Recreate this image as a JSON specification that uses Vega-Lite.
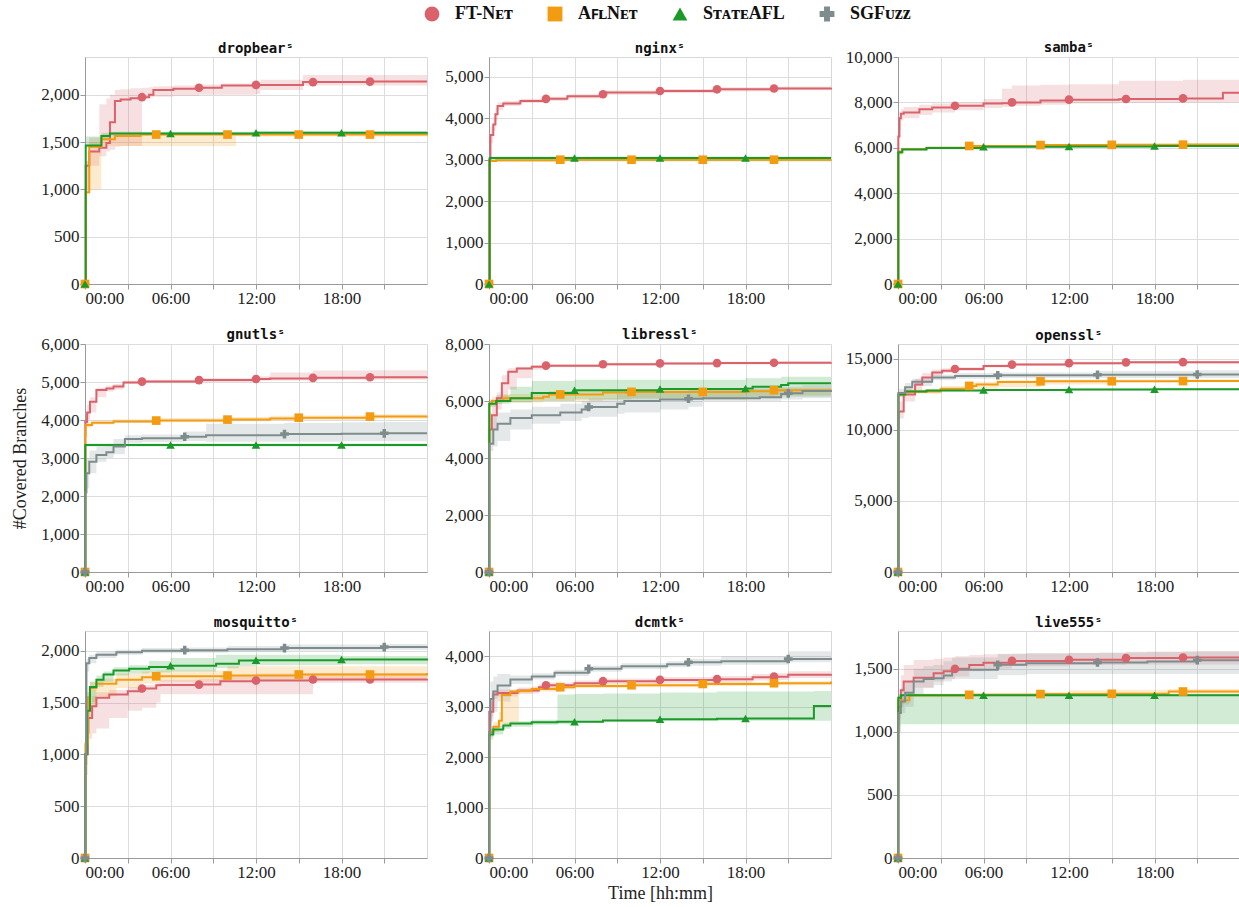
{
"$schema": "https://vega.github.io/schema/vega-lite/v6.json",
"background": "white",
"padding": {"left": 10, "top": 5, "right": 0, "bottom": 0},
"config": {
 "view": {"stroke": "#d8d8d8", "strokeWidth": 1},
 "axis": {"labelFont": "Liberation Serif", "labelFontSize": 17, "labelColor": "#222", "titleFont": "Liberation Serif", "titleFontSize": 18, "titleFontWeight": "normal", "titleColor": "#222", "gridColor": "#dddddd", "domainColor": "#9a9a9a", "tickColor": "#9a9a9a", "tickSize": 5, "labelPadding": 1},
 "title": {"font": "DejaVu Sans Mono", "fontWeight": "bold", "fontSize": 14, "offset": 1, "color": "#111"},
 "legend": {"orient": "none", "legendX": 338, "legendY": -52, "direction": "horizontal", "title": null, "labelFont": "Liberation Serif", "labelFontSize": 18, "labelFontWeight": "bold", "labelColor": "#111", "symbolSize": 220, "symbolOpacity": 1, "symbolStrokeWidth": 0, "columnPadding": 33, "labelOffset": 14}
},
"columns": 3,
"align": "each",
"spacing": {"row": 20, "column": 6},
"resolve": {"scale": {"color": "shared", "shape": "shared"}},
"datasets": {"d": [
{"p":"dropbear","f":"FT-Net","t":0,"y":0,"lo":0,"hi":0,"m":1},
{"p":"dropbear","f":"FT-Net","t":0.05,"y":1250,"lo":1000,"hi":1300},
{"p":"dropbear","f":"FT-Net","t":0.3,"y":1400,"lo":1250,"hi":1550},
{"p":"dropbear","f":"FT-Net","t":1.0,"y":1440,"lo":1350,"hi":1900},
{"p":"dropbear","f":"FT-Net","t":1.5,"y":1490,"lo":1400,"hi":1960},
{"p":"dropbear","f":"FT-Net","t":1.75,"y":1710,"lo":1420,"hi":2000},
{"p":"dropbear","f":"FT-Net","t":2.1,"y":1935,"lo":1450,"hi":2050},
{"p":"dropbear","f":"FT-Net","t":2.5,"y":1950,"lo":1460,"hi":2060},
{"p":"dropbear","f":"FT-Net","t":3.2,"y":1965,"lo":1460,"hi":2070},
{"p":"dropbear","f":"FT-Net","t":4,"y":1975,"lo":1960,"hi":2075,"m":1},
{"p":"dropbear","f":"FT-Net","t":4.5,"y":2000,"lo":1970,"hi":2080},
{"p":"dropbear","f":"FT-Net","t":4.8,"y":2050,"lo":1980,"hi":2090},
{"p":"dropbear","f":"FT-Net","t":6.2,"y":2065,"lo":1990,"hi":2100},
{"p":"dropbear","f":"FT-Net","t":8,"y":2075,"lo":2000,"hi":2110,"m":1},
{"p":"dropbear","f":"FT-Net","t":9.6,"y":2100,"lo":2000,"hi":2120},
{"p":"dropbear","f":"FT-Net","t":12,"y":2105,"lo":2010,"hi":2130,"m":1},
{"p":"dropbear","f":"FT-Net","t":12.3,"y":2105,"lo":2050,"hi":2160},
{"p":"dropbear","f":"FT-Net","t":15.3,"y":2135,"lo":2100,"hi":2210},
{"p":"dropbear","f":"FT-Net","t":16,"y":2135,"lo":2100,"hi":2210,"m":1},
{"p":"dropbear","f":"FT-Net","t":20,"y":2140,"lo":2100,"hi":2210,"m":1},
{"p":"dropbear","f":"FT-Net","t":24,"y":2140,"lo":2100,"hi":2210},
{"p":"dropbear","f":"AflNet","t":0,"y":0,"lo":0,"hi":0,"m":1},
{"p":"dropbear","f":"AflNet","t":0.05,"y":970,"lo":950,"hi":1300},
{"p":"dropbear","f":"AflNet","t":0.3,"y":1450,"lo":1000,"hi":1500},
{"p":"dropbear","f":"AflNet","t":1.15,"y":1530,"lo":1460,"hi":1580},
{"p":"dropbear","f":"AflNet","t":2.1,"y":1565,"lo":1460,"hi":1590},
{"p":"dropbear","f":"AflNet","t":3.9,"y":1580,"lo":1460,"hi":1600},
{"p":"dropbear","f":"AflNet","t":5,"y":1580,"lo":1460,"hi":1600,"m":1},
{"p":"dropbear","f":"AflNet","t":10,"y":1580,"lo":1460,"hi":1600,"m":1},
{"p":"dropbear","f":"AflNet","t":10.6,"y":1580,"lo":1560,"hi":1600},
{"p":"dropbear","f":"AflNet","t":15,"y":1580,"lo":1560,"hi":1600,"m":1},
{"p":"dropbear","f":"AflNet","t":20,"y":1580,"lo":1560,"hi":1600,"m":1},
{"p":"dropbear","f":"AflNet","t":24,"y":1585,"lo":1565,"hi":1600},
{"p":"dropbear","f":"StateAFL","t":0,"y":0,"lo":0,"hi":0,"m":1},
{"p":"dropbear","f":"StateAFL","t":0.05,"y":1465,"lo":1440,"hi":1560},
{"p":"dropbear","f":"StateAFL","t":1.15,"y":1565,"lo":1520,"hi":1600},
{"p":"dropbear","f":"StateAFL","t":1.75,"y":1590,"lo":1570,"hi":1610},
{"p":"dropbear","f":"StateAFL","t":6,"y":1592,"lo":1575,"hi":1610,"m":1},
{"p":"dropbear","f":"StateAFL","t":12,"y":1598,"lo":1580,"hi":1615,"m":1},
{"p":"dropbear","f":"StateAFL","t":18,"y":1600,"lo":1585,"hi":1615,"m":1},
{"p":"dropbear","f":"StateAFL","t":24,"y":1605,"lo":1590,"hi":1620},
{"p":"nginx","f":"FT-Net","t":0,"y":0,"lo":0,"hi":0,"m":1},
{"p":"nginx","f":"FT-Net","t":0.02,"y":3000,"lo":2900,"hi":3100},
{"p":"nginx","f":"FT-Net","t":0.1,"y":3600,"lo":3400,"hi":3800},
{"p":"nginx","f":"FT-Net","t":0.3,"y":3850,"lo":3700,"hi":4000},
{"p":"nginx","f":"FT-Net","t":0.45,"y":4100,"lo":3950,"hi":4250},
{"p":"nginx","f":"FT-Net","t":0.6,"y":4300,"lo":4200,"hi":4380},
{"p":"nginx","f":"FT-Net","t":1.0,"y":4360,"lo":4300,"hi":4420},
{"p":"nginx","f":"FT-Net","t":2.2,"y":4420,"lo":4370,"hi":4470},
{"p":"nginx","f":"FT-Net","t":4,"y":4470,"lo":4420,"hi":4520,"m":1},
{"p":"nginx","f":"FT-Net","t":5.5,"y":4530,"lo":4480,"hi":4580},
{"p":"nginx","f":"FT-Net","t":8,"y":4580,"lo":4530,"hi":4630,"m":1},
{"p":"nginx","f":"FT-Net","t":8.2,"y":4620,"lo":4570,"hi":4670},
{"p":"nginx","f":"FT-Net","t":12,"y":4660,"lo":4610,"hi":4710,"m":1},
{"p":"nginx","f":"FT-Net","t":16,"y":4700,"lo":4650,"hi":4750,"m":1},
{"p":"nginx","f":"FT-Net","t":20,"y":4720,"lo":4680,"hi":4770,"m":1},
{"p":"nginx","f":"FT-Net","t":24,"y":4740,"lo":4700,"hi":4790},
{"p":"nginx","f":"AflNet","t":0,"y":0,"lo":0,"hi":0,"m":1},
{"p":"nginx","f":"AflNet","t":0.05,"y":2970,"lo":2940,"hi":3000},
{"p":"nginx","f":"AflNet","t":0.5,"y":2990,"lo":2960,"hi":3020},
{"p":"nginx","f":"AflNet","t":5,"y":3000,"lo":2970,"hi":3030,"m":1},
{"p":"nginx","f":"AflNet","t":10,"y":3000,"lo":2970,"hi":3030,"m":1},
{"p":"nginx","f":"AflNet","t":15,"y":3000,"lo":2970,"hi":3030,"m":1},
{"p":"nginx","f":"AflNet","t":20,"y":3000,"lo":2970,"hi":3030,"m":1},
{"p":"nginx","f":"AflNet","t":24,"y":3005,"lo":2975,"hi":3035},
{"p":"nginx","f":"StateAFL","t":0,"y":0,"lo":0,"hi":0,"m":1},
{"p":"nginx","f":"StateAFL","t":0.05,"y":3040,"lo":2960,"hi":3080},
{"p":"nginx","f":"StateAFL","t":6,"y":3040,"lo":2960,"hi":3080,"m":1},
{"p":"nginx","f":"StateAFL","t":12,"y":3040,"lo":2960,"hi":3080,"m":1},
{"p":"nginx","f":"StateAFL","t":18,"y":3040,"lo":2960,"hi":3080,"m":1},
{"p":"nginx","f":"StateAFL","t":24,"y":3040,"lo":2960,"hi":3080},
{"p":"samba","f":"FT-Net","t":0,"y":0,"lo":0,"hi":0,"m":1},
{"p":"samba","f":"FT-Net","t":0.02,"y":6500,"lo":5800,"hi":7200},
{"p":"samba","f":"FT-Net","t":0.1,"y":7300,"lo":6800,"hi":7600},
{"p":"samba","f":"FT-Net","t":0.2,"y":7500,"lo":7200,"hi":7700},
{"p":"samba","f":"FT-Net","t":0.4,"y":7560,"lo":7300,"hi":7800},
{"p":"samba","f":"FT-Net","t":1.5,"y":7700,"lo":7450,"hi":7900},
{"p":"samba","f":"FT-Net","t":2.4,"y":7770,"lo":7550,"hi":7950},
{"p":"samba","f":"FT-Net","t":4,"y":7850,"lo":7650,"hi":8000,"m":1},
{"p":"samba","f":"FT-Net","t":6,"y":7950,"lo":7750,"hi":8150},
{"p":"samba","f":"FT-Net","t":7.3,"y":7960,"lo":7800,"hi":8600},
{"p":"samba","f":"FT-Net","t":8,"y":8000,"lo":7850,"hi":8750,"m":1},
{"p":"samba","f":"FT-Net","t":10,"y":8080,"lo":7900,"hi":8780},
{"p":"samba","f":"FT-Net","t":12,"y":8120,"lo":7950,"hi":8800,"m":1},
{"p":"samba","f":"FT-Net","t":15.5,"y":8140,"lo":7980,"hi":8950},
{"p":"samba","f":"FT-Net","t":16,"y":8150,"lo":7980,"hi":8950,"m":1},
{"p":"samba","f":"FT-Net","t":20,"y":8175,"lo":8000,"hi":9000,"m":1},
{"p":"samba","f":"FT-Net","t":22.8,"y":8420,"lo":8000,"hi":9000},
{"p":"samba","f":"FT-Net","t":24,"y":8450,"lo":8000,"hi":9020},
{"p":"samba","f":"AflNet","t":0,"y":0,"lo":0,"hi":0,"m":1},
{"p":"samba","f":"AflNet","t":0.02,"y":5800,"lo":5700,"hi":5900},
{"p":"samba","f":"AflNet","t":0.3,"y":5950,"lo":5900,"hi":6000},
{"p":"samba","f":"AflNet","t":2,"y":6000,"lo":5950,"hi":6050},
{"p":"samba","f":"AflNet","t":5,"y":6080,"lo":6030,"hi":6130,"m":1},
{"p":"samba","f":"AflNet","t":10,"y":6120,"lo":6070,"hi":6170,"m":1},
{"p":"samba","f":"AflNet","t":15,"y":6130,"lo":6080,"hi":6180,"m":1},
{"p":"samba","f":"AflNet","t":20,"y":6140,"lo":6090,"hi":6190,"m":1},
{"p":"samba","f":"AflNet","t":24,"y":6170,"lo":6120,"hi":6220},
{"p":"samba","f":"StateAFL","t":0,"y":0,"lo":0,"hi":0,"m":1},
{"p":"samba","f":"StateAFL","t":0.02,"y":5800,"lo":5700,"hi":5900},
{"p":"samba","f":"StateAFL","t":0.3,"y":5930,"lo":5880,"hi":5980},
{"p":"samba","f":"StateAFL","t":2,"y":5990,"lo":5940,"hi":6040},
{"p":"samba","f":"StateAFL","t":6,"y":6050,"lo":6000,"hi":6100,"m":1},
{"p":"samba","f":"StateAFL","t":12,"y":6060,"lo":6010,"hi":6110,"m":1},
{"p":"samba","f":"StateAFL","t":18,"y":6080,"lo":6030,"hi":6130,"m":1},
{"p":"samba","f":"StateAFL","t":24,"y":6120,"lo":6070,"hi":6170},
{"p":"gnutls","f":"FT-Net","t":0,"y":0,"lo":0,"hi":0,"m":1},
{"p":"gnutls","f":"FT-Net","t":0.02,"y":3950,"lo":3800,"hi":4100},
{"p":"gnutls","f":"FT-Net","t":0.15,"y":4200,"lo":4000,"hi":4400},
{"p":"gnutls","f":"FT-Net","t":0.35,"y":4480,"lo":4200,"hi":4600},
{"p":"gnutls","f":"FT-Net","t":0.8,"y":4790,"lo":4600,"hi":4850},
{"p":"gnutls","f":"FT-Net","t":1.5,"y":4830,"lo":4750,"hi":4900},
{"p":"gnutls","f":"FT-Net","t":2.0,"y":4880,"lo":4800,"hi":4950},
{"p":"gnutls","f":"FT-Net","t":2.7,"y":4990,"lo":4950,"hi":5030},
{"p":"gnutls","f":"FT-Net","t":4,"y":5010,"lo":4970,"hi":5060,"m":1},
{"p":"gnutls","f":"FT-Net","t":8,"y":5050,"lo":5000,"hi":5100,"m":1},
{"p":"gnutls","f":"FT-Net","t":12,"y":5080,"lo":5030,"hi":5150,"m":1},
{"p":"gnutls","f":"FT-Net","t":13,"y":5090,"lo":5040,"hi":5250},
{"p":"gnutls","f":"FT-Net","t":16,"y":5110,"lo":5050,"hi":5300,"m":1},
{"p":"gnutls","f":"FT-Net","t":20,"y":5125,"lo":5060,"hi":5310,"m":1},
{"p":"gnutls","f":"FT-Net","t":24,"y":5130,"lo":5060,"hi":5310},
{"p":"gnutls","f":"AflNet","t":0,"y":0,"lo":0,"hi":0,"m":1},
{"p":"gnutls","f":"AflNet","t":0.02,"y":3600,"lo":3400,"hi":3800},
{"p":"gnutls","f":"AflNet","t":0.05,"y":3870,"lo":3800,"hi":3950},
{"p":"gnutls","f":"AflNet","t":0.5,"y":3930,"lo":3880,"hi":3990},
{"p":"gnutls","f":"AflNet","t":2,"y":3960,"lo":3920,"hi":4020},
{"p":"gnutls","f":"AflNet","t":5,"y":3985,"lo":3940,"hi":4050,"m":1},
{"p":"gnutls","f":"AflNet","t":10,"y":4010,"lo":3960,"hi":4080,"m":1},
{"p":"gnutls","f":"AflNet","t":13,"y":4040,"lo":3990,"hi":4110},
{"p":"gnutls","f":"AflNet","t":15,"y":4060,"lo":4000,"hi":4120,"m":1},
{"p":"gnutls","f":"AflNet","t":20,"y":4090,"lo":4030,"hi":4150,"m":1},
{"p":"gnutls","f":"AflNet","t":24,"y":4095,"lo":4040,"hi":4160},
{"p":"gnutls","f":"StateAFL","t":0,"y":0,"lo":0,"hi":0,"m":1},
{"p":"gnutls","f":"StateAFL","t":0.02,"y":3340,"lo":3300,"hi":3380},
{"p":"gnutls","f":"StateAFL","t":6,"y":3340,"lo":3300,"hi":3380,"m":1},
{"p":"gnutls","f":"StateAFL","t":12,"y":3340,"lo":3300,"hi":3380,"m":1},
{"p":"gnutls","f":"StateAFL","t":18,"y":3340,"lo":3300,"hi":3380,"m":1},
{"p":"gnutls","f":"StateAFL","t":24,"y":3340,"lo":3300,"hi":3380},
{"p":"gnutls","f":"SGFuzz","t":0,"y":0,"lo":0,"hi":0,"m":1},
{"p":"gnutls","f":"SGFuzz","t":0.03,"y":2100,"lo":1900,"hi":2600},
{"p":"gnutls","f":"SGFuzz","t":0.1,"y":2600,"lo":2200,"hi":3000},
{"p":"gnutls","f":"SGFuzz","t":0.3,"y":2900,"lo":2600,"hi":3200},
{"p":"gnutls","f":"SGFuzz","t":0.8,"y":3080,"lo":2900,"hi":3300},
{"p":"gnutls","f":"SGFuzz","t":1.5,"y":3150,"lo":3000,"hi":3350},
{"p":"gnutls","f":"SGFuzz","t":2.0,"y":3300,"lo":3100,"hi":3500},
{"p":"gnutls","f":"SGFuzz","t":2.8,"y":3500,"lo":3400,"hi":3600},
{"p":"gnutls","f":"SGFuzz","t":4,"y":3520,"lo":3420,"hi":3620},
{"p":"gnutls","f":"SGFuzz","t":7,"y":3560,"lo":3450,"hi":3700,"m":1},
{"p":"gnutls","f":"SGFuzz","t":8.5,"y":3600,"lo":3430,"hi":3900},
{"p":"gnutls","f":"SGFuzz","t":14,"y":3630,"lo":3430,"hi":3920,"m":1},
{"p":"gnutls","f":"SGFuzz","t":18,"y":3640,"lo":3440,"hi":3940},
{"p":"gnutls","f":"SGFuzz","t":21,"y":3650,"lo":3440,"hi":3950,"m":1},
{"p":"gnutls","f":"SGFuzz","t":24,"y":3650,"lo":3440,"hi":3950},
{"p":"libressl","f":"FT-Net","t":0,"y":0,"lo":0,"hi":0,"m":1},
{"p":"libressl","f":"FT-Net","t":0.02,"y":5000,"lo":4500,"hi":5600},
{"p":"libressl","f":"FT-Net","t":0.2,"y":5500,"lo":5000,"hi":5900},
{"p":"libressl","f":"FT-Net","t":0.55,"y":6100,"lo":5700,"hi":6300},
{"p":"libressl","f":"FT-Net","t":0.9,"y":6620,"lo":6000,"hi":6900},
{"p":"libressl","f":"FT-Net","t":1.35,"y":7030,"lo":6400,"hi":7150},
{"p":"libressl","f":"FT-Net","t":1.95,"y":7140,"lo":6800,"hi":7200},
{"p":"libressl","f":"FT-Net","t":3,"y":7200,"lo":7100,"hi":7260},
{"p":"libressl","f":"FT-Net","t":4,"y":7240,"lo":7180,"hi":7290,"m":1},
{"p":"libressl","f":"FT-Net","t":8,"y":7290,"lo":7240,"hi":7340,"m":1},
{"p":"libressl","f":"FT-Net","t":12,"y":7320,"lo":7270,"hi":7370,"m":1},
{"p":"libressl","f":"FT-Net","t":16,"y":7330,"lo":7280,"hi":7380,"m":1},
{"p":"libressl","f":"FT-Net","t":20,"y":7340,"lo":7290,"hi":7390,"m":1},
{"p":"libressl","f":"FT-Net","t":24,"y":7350,"lo":7300,"hi":7400},
{"p":"libressl","f":"AflNet","t":0,"y":0,"lo":0,"hi":0,"m":1},
{"p":"libressl","f":"AflNet","t":0.02,"y":5900,"lo":5800,"hi":6000},
{"p":"libressl","f":"AflNet","t":0.2,"y":6000,"lo":5900,"hi":6150},
{"p":"libressl","f":"AflNet","t":1.0,"y":6100,"lo":5950,"hi":6250},
{"p":"libressl","f":"AflNet","t":3.8,"y":6150,"lo":6000,"hi":6300},
{"p":"libressl","f":"AflNet","t":4.2,"y":6230,"lo":6000,"hi":6350},
{"p":"libressl","f":"AflNet","t":5,"y":6230,"lo":6000,"hi":6350,"m":1},
{"p":"libressl","f":"AflNet","t":8,"y":6300,"lo":6050,"hi":6400},
{"p":"libressl","f":"AflNet","t":10,"y":6320,"lo":6100,"hi":6400,"m":1},
{"p":"libressl","f":"AflNet","t":15,"y":6320,"lo":6100,"hi":6400,"m":1},
{"p":"libressl","f":"AflNet","t":18,"y":6340,"lo":6150,"hi":6420},
{"p":"libressl","f":"AflNet","t":20,"y":6380,"lo":6200,"hi":6450,"m":1},
{"p":"libressl","f":"AflNet","t":24,"y":6400,"lo":6200,"hi":6450},
{"p":"libressl","f":"StateAFL","t":0,"y":0,"lo":0,"hi":0,"m":1},
{"p":"libressl","f":"StateAFL","t":0.02,"y":5900,"lo":5800,"hi":6050},
{"p":"libressl","f":"StateAFL","t":0.5,"y":6000,"lo":5900,"hi":6200},
{"p":"libressl","f":"StateAFL","t":1.5,"y":6100,"lo":5950,"hi":6500},
{"p":"libressl","f":"StateAFL","t":3,"y":6280,"lo":6000,"hi":6700},
{"p":"libressl","f":"StateAFL","t":6,"y":6380,"lo":6050,"hi":6750,"m":1},
{"p":"libressl","f":"StateAFL","t":12,"y":6420,"lo":6050,"hi":6750,"m":1},
{"p":"libressl","f":"StateAFL","t":18,"y":6440,"lo":6080,"hi":6800,"m":1},
{"p":"libressl","f":"StateAFL","t":18.5,"y":6500,"lo":6100,"hi":6800},
{"p":"libressl","f":"StateAFL","t":20.5,"y":6560,"lo":6150,"hi":6850},
{"p":"libressl","f":"StateAFL","t":21,"y":6620,"lo":6150,"hi":6850},
{"p":"libressl","f":"StateAFL","t":24,"y":6620,"lo":6150,"hi":6850},
{"p":"libressl","f":"SGFuzz","t":0,"y":0,"lo":0,"hi":0,"m":1},
{"p":"libressl","f":"SGFuzz","t":0.02,"y":4500,"lo":4250,"hi":5000},
{"p":"libressl","f":"SGFuzz","t":0.3,"y":5000,"lo":4400,"hi":5500},
{"p":"libressl","f":"SGFuzz","t":0.6,"y":5200,"lo":4600,"hi":5600},
{"p":"libressl","f":"SGFuzz","t":1.5,"y":5400,"lo":5000,"hi":5700},
{"p":"libressl","f":"SGFuzz","t":3,"y":5500,"lo":5200,"hi":5800},
{"p":"libressl","f":"SGFuzz","t":5,"y":5600,"lo":5300,"hi":5900},
{"p":"libressl","f":"SGFuzz","t":6.5,"y":5700,"lo":5400,"hi":6000},
{"p":"libressl","f":"SGFuzz","t":7,"y":5790,"lo":5450,"hi":6100,"m":1},
{"p":"libressl","f":"SGFuzz","t":9,"y":5900,"lo":5550,"hi":6250},
{"p":"libressl","f":"SGFuzz","t":9.5,"y":6000,"lo":5600,"hi":6300},
{"p":"libressl","f":"SGFuzz","t":12,"y":6050,"lo":5700,"hi":6350},
{"p":"libressl","f":"SGFuzz","t":14,"y":6080,"lo":5800,"hi":6400,"m":1},
{"p":"libressl","f":"SGFuzz","t":15,"y":6100,"lo":6000,"hi":6450},
{"p":"libressl","f":"SGFuzz","t":19,"y":6130,"lo":6000,"hi":6450},
{"p":"libressl","f":"SGFuzz","t":20.5,"y":6250,"lo":6050,"hi":6500},
{"p":"libressl","f":"SGFuzz","t":21,"y":6270,"lo":6050,"hi":6500,"m":1},
{"p":"libressl","f":"SGFuzz","t":22,"y":6350,"lo":6100,"hi":6550},
{"p":"libressl","f":"SGFuzz","t":24,"y":6380,"lo":6100,"hi":6550},
{"p":"openssl","f":"FT-Net","t":0,"y":0,"lo":0,"hi":0,"m":1},
{"p":"openssl","f":"FT-Net","t":0.03,"y":11300,"lo":10800,"hi":12000},
{"p":"openssl","f":"FT-Net","t":0.4,"y":12500,"lo":12000,"hi":12900},
{"p":"openssl","f":"FT-Net","t":1.2,"y":13200,"lo":12800,"hi":13600},
{"p":"openssl","f":"FT-Net","t":1.7,"y":13700,"lo":13300,"hi":14000},
{"p":"openssl","f":"FT-Net","t":2.4,"y":14050,"lo":13800,"hi":14250},
{"p":"openssl","f":"FT-Net","t":3.1,"y":14170,"lo":14000,"hi":14350},
{"p":"openssl","f":"FT-Net","t":4,"y":14290,"lo":14150,"hi":14420,"m":1},
{"p":"openssl","f":"FT-Net","t":6,"y":14500,"lo":14400,"hi":14600},
{"p":"openssl","f":"FT-Net","t":8,"y":14600,"lo":14500,"hi":14700,"m":1},
{"p":"openssl","f":"FT-Net","t":12,"y":14700,"lo":14600,"hi":14800,"m":1},
{"p":"openssl","f":"FT-Net","t":16,"y":14760,"lo":14660,"hi":14850,"m":1},
{"p":"openssl","f":"FT-Net","t":20,"y":14770,"lo":14670,"hi":14860,"m":1},
{"p":"openssl","f":"FT-Net","t":24,"y":14780,"lo":14680,"hi":14870},
{"p":"openssl","f":"AflNet","t":0,"y":0,"lo":0,"hi":0,"m":1},
{"p":"openssl","f":"AflNet","t":0.03,"y":12500,"lo":12300,"hi":12700},
{"p":"openssl","f":"AflNet","t":0.5,"y":12700,"lo":12550,"hi":12850},
{"p":"openssl","f":"AflNet","t":3,"y":12900,"lo":12750,"hi":13100},
{"p":"openssl","f":"AflNet","t":5,"y":13100,"lo":12900,"hi":13300,"m":1},
{"p":"openssl","f":"AflNet","t":5.5,"y":13200,"lo":12900,"hi":13400},
{"p":"openssl","f":"AflNet","t":7,"y":13380,"lo":13000,"hi":13500},
{"p":"openssl","f":"AflNet","t":10,"y":13420,"lo":13200,"hi":13550,"m":1},
{"p":"openssl","f":"AflNet","t":15,"y":13430,"lo":13350,"hi":13550,"m":1},
{"p":"openssl","f":"AflNet","t":20,"y":13440,"lo":13360,"hi":13560,"m":1},
{"p":"openssl","f":"AflNet","t":24,"y":13480,"lo":13400,"hi":13580},
{"p":"openssl","f":"StateAFL","t":0,"y":0,"lo":0,"hi":0,"m":1},
{"p":"openssl","f":"StateAFL","t":0.03,"y":12500,"lo":12400,"hi":12650},
{"p":"openssl","f":"StateAFL","t":0.5,"y":12700,"lo":12600,"hi":12800},
{"p":"openssl","f":"StateAFL","t":2,"y":12780,"lo":12700,"hi":12850},
{"p":"openssl","f":"StateAFL","t":6,"y":12820,"lo":12750,"hi":12880,"m":1},
{"p":"openssl","f":"StateAFL","t":12,"y":12850,"lo":12780,"hi":12910,"m":1},
{"p":"openssl","f":"StateAFL","t":18,"y":12870,"lo":12800,"hi":12930,"m":1},
{"p":"openssl","f":"StateAFL","t":24,"y":12900,"lo":12830,"hi":12960},
{"p":"openssl","f":"SGFuzz","t":0,"y":0,"lo":0,"hi":0,"m":1},
{"p":"openssl","f":"SGFuzz","t":0.03,"y":12600,"lo":12300,"hi":12900},
{"p":"openssl","f":"SGFuzz","t":0.5,"y":13000,"lo":12700,"hi":13300},
{"p":"openssl","f":"SGFuzz","t":1.0,"y":13400,"lo":13100,"hi":13600},
{"p":"openssl","f":"SGFuzz","t":2.4,"y":13700,"lo":13500,"hi":13900},
{"p":"openssl","f":"SGFuzz","t":4,"y":13800,"lo":13600,"hi":14000},
{"p":"openssl","f":"SGFuzz","t":7,"y":13850,"lo":13650,"hi":14050,"m":1},
{"p":"openssl","f":"SGFuzz","t":14,"y":13880,"lo":13650,"hi":14150,"m":1},
{"p":"openssl","f":"SGFuzz","t":21,"y":13900,"lo":13650,"hi":14200,"m":1},
{"p":"openssl","f":"SGFuzz","t":24,"y":13900,"lo":13650,"hi":14200},
{"p":"mosquitto","f":"FT-Net","t":0,"y":0,"lo":0,"hi":0,"m":1},
{"p":"mosquitto","f":"FT-Net","t":0.03,"y":1000,"lo":800,"hi":1200},
{"p":"mosquitto","f":"FT-Net","t":0.2,"y":1350,"lo":1150,"hi":1500},
{"p":"mosquitto","f":"FT-Net","t":0.5,"y":1465,"lo":1200,"hi":1560},
{"p":"mosquitto","f":"FT-Net","t":0.8,"y":1545,"lo":1250,"hi":1600},
{"p":"mosquitto","f":"FT-Net","t":1.7,"y":1577,"lo":1350,"hi":1620},
{"p":"mosquitto","f":"FT-Net","t":3,"y":1609,"lo":1420,"hi":1650},
{"p":"mosquitto","f":"FT-Net","t":4,"y":1635,"lo":1450,"hi":1670,"m":1},
{"p":"mosquitto","f":"FT-Net","t":5,"y":1667,"lo":1500,"hi":1700},
{"p":"mosquitto","f":"FT-Net","t":5.3,"y":1670,"lo":1580,"hi":1720},
{"p":"mosquitto","f":"FT-Net","t":8,"y":1673,"lo":1580,"hi":1730,"m":1},
{"p":"mosquitto","f":"FT-Net","t":9.5,"y":1705,"lo":1580,"hi":1760},
{"p":"mosquitto","f":"FT-Net","t":12,"y":1712,"lo":1580,"hi":1780,"m":1},
{"p":"mosquitto","f":"FT-Net","t":16,"y":1722,"lo":1690,"hi":1785,"m":1},
{"p":"mosquitto","f":"FT-Net","t":20,"y":1722,"lo":1690,"hi":1785,"m":1},
{"p":"mosquitto","f":"FT-Net","t":24,"y":1728,"lo":1690,"hi":1785},
{"p":"mosquitto","f":"AflNet","t":0,"y":0,"lo":0,"hi":0,"m":1},
{"p":"mosquitto","f":"AflNet","t":0.03,"y":1100,"lo":900,"hi":1300},
{"p":"mosquitto","f":"AflNet","t":0.2,"y":1550,"lo":1200,"hi":1650},
{"p":"mosquitto","f":"AflNet","t":0.35,"y":1640,"lo":1450,"hi":1700},
{"p":"mosquitto","f":"AflNet","t":0.8,"y":1680,"lo":1560,"hi":1730},
{"p":"mosquitto","f":"AflNet","t":2.2,"y":1720,"lo":1640,"hi":1780},
{"p":"mosquitto","f":"AflNet","t":4,"y":1744,"lo":1680,"hi":1800},
{"p":"mosquitto","f":"AflNet","t":5,"y":1753,"lo":1700,"hi":1810,"m":1},
{"p":"mosquitto","f":"AflNet","t":10,"y":1760,"lo":1720,"hi":1850,"m":1},
{"p":"mosquitto","f":"AflNet","t":15,"y":1770,"lo":1720,"hi":1850,"m":1},
{"p":"mosquitto","f":"AflNet","t":20,"y":1770,"lo":1720,"hi":1850,"m":1},
{"p":"mosquitto","f":"AflNet","t":24,"y":1785,"lo":1730,"hi":1860},
{"p":"mosquitto","f":"StateAFL","t":0,"y":0,"lo":0,"hi":0,"m":1},
{"p":"mosquitto","f":"StateAFL","t":0.03,"y":1000,"lo":900,"hi":1200},
{"p":"mosquitto","f":"StateAFL","t":0.15,"y":1420,"lo":1200,"hi":1600},
{"p":"mosquitto","f":"StateAFL","t":0.35,"y":1650,"lo":1500,"hi":1700},
{"p":"mosquitto","f":"StateAFL","t":0.8,"y":1720,"lo":1650,"hi":1760},
{"p":"mosquitto","f":"StateAFL","t":1.3,"y":1770,"lo":1700,"hi":1800},
{"p":"mosquitto","f":"StateAFL","t":2.0,"y":1810,"lo":1760,"hi":1840},
{"p":"mosquitto","f":"StateAFL","t":3.1,"y":1825,"lo":1780,"hi":1860},
{"p":"mosquitto","f":"StateAFL","t":4.5,"y":1842,"lo":1790,"hi":1900},
{"p":"mosquitto","f":"StateAFL","t":6,"y":1855,"lo":1800,"hi":1930,"m":1},
{"p":"mosquitto","f":"StateAFL","t":9.2,"y":1875,"lo":1830,"hi":1960},
{"p":"mosquitto","f":"StateAFL","t":10.8,"y":1905,"lo":1850,"hi":1960},
{"p":"mosquitto","f":"StateAFL","t":12,"y":1908,"lo":1860,"hi":1960,"m":1},
{"p":"mosquitto","f":"StateAFL","t":18,"y":1914,"lo":1870,"hi":1950,"m":1},
{"p":"mosquitto","f":"StateAFL","t":24,"y":1925,"lo":1870,"hi":1950},
{"p":"mosquitto","f":"SGFuzz","t":0,"y":0,"lo":0,"hi":0,"m":1},
{"p":"mosquitto","f":"SGFuzz","t":0.03,"y":1000,"lo":900,"hi":1200},
{"p":"mosquitto","f":"SGFuzz","t":0.1,"y":1880,"lo":1800,"hi":1920},
{"p":"mosquitto","f":"SGFuzz","t":0.3,"y":1930,"lo":1880,"hi":1960},
{"p":"mosquitto","f":"SGFuzz","t":0.8,"y":1960,"lo":1930,"hi":1990},
{"p":"mosquitto","f":"SGFuzz","t":2.2,"y":1985,"lo":1960,"hi":2010},
{"p":"mosquitto","f":"SGFuzz","t":4,"y":2000,"lo":1975,"hi":2025},
{"p":"mosquitto","f":"SGFuzz","t":7,"y":2005,"lo":1980,"hi":2030,"m":1},
{"p":"mosquitto","f":"SGFuzz","t":10,"y":2015,"lo":1990,"hi":2045},
{"p":"mosquitto","f":"SGFuzz","t":14,"y":2025,"lo":2000,"hi":2060,"m":1},
{"p":"mosquitto","f":"SGFuzz","t":21,"y":2035,"lo":2010,"hi":2065,"m":1},
{"p":"mosquitto","f":"SGFuzz","t":24,"y":2040,"lo":2010,"hi":2065},
{"p":"dcmtk","f":"FT-Net","t":0,"y":0,"lo":0,"hi":0,"m":1},
{"p":"dcmtk","f":"FT-Net","t":0.02,"y":2900,"lo":2700,"hi":3100},
{"p":"dcmtk","f":"FT-Net","t":0.3,"y":3240,"lo":3150,"hi":3320},
{"p":"dcmtk","f":"FT-Net","t":0.6,"y":3270,"lo":3200,"hi":3340},
{"p":"dcmtk","f":"FT-Net","t":2.0,"y":3320,"lo":3260,"hi":3380},
{"p":"dcmtk","f":"FT-Net","t":3.5,"y":3385,"lo":3330,"hi":3440},
{"p":"dcmtk","f":"FT-Net","t":4,"y":3425,"lo":3370,"hi":3480,"m":1},
{"p":"dcmtk","f":"FT-Net","t":6,"y":3465,"lo":3410,"hi":3520},
{"p":"dcmtk","f":"FT-Net","t":8,"y":3505,"lo":3450,"hi":3560,"m":1},
{"p":"dcmtk","f":"FT-Net","t":12,"y":3530,"lo":3470,"hi":3590,"m":1},
{"p":"dcmtk","f":"FT-Net","t":16,"y":3545,"lo":3480,"hi":3610,"m":1},
{"p":"dcmtk","f":"FT-Net","t":18.5,"y":3585,"lo":3520,"hi":3650},
{"p":"dcmtk","f":"FT-Net","t":20,"y":3595,"lo":3530,"hi":3660,"m":1},
{"p":"dcmtk","f":"FT-Net","t":21,"y":3635,"lo":3570,"hi":3700},
{"p":"dcmtk","f":"FT-Net","t":24,"y":3650,"lo":3580,"hi":3720},
{"p":"dcmtk","f":"AflNet","t":0,"y":0,"lo":0,"hi":0,"m":1},
{"p":"dcmtk","f":"AflNet","t":0.02,"y":2500,"lo":2400,"hi":2600},
{"p":"dcmtk","f":"AflNet","t":0.3,"y":2600,"lo":2500,"hi":2700},
{"p":"dcmtk","f":"AflNet","t":0.7,"y":2720,"lo":2600,"hi":2900},
{"p":"dcmtk","f":"AflNet","t":0.9,"y":3230,"lo":2650,"hi":3280},
{"p":"dcmtk","f":"AflNet","t":1.5,"y":3300,"lo":2700,"hi":3330},
{"p":"dcmtk","f":"AflNet","t":2.1,"y":3310,"lo":3250,"hi":3360},
{"p":"dcmtk","f":"AflNet","t":3,"y":3350,"lo":3300,"hi":3400},
{"p":"dcmtk","f":"AflNet","t":5,"y":3385,"lo":3340,"hi":3430,"m":1},
{"p":"dcmtk","f":"AflNet","t":6,"y":3410,"lo":3370,"hi":3450},
{"p":"dcmtk","f":"AflNet","t":10,"y":3425,"lo":3385,"hi":3465,"m":1},
{"p":"dcmtk","f":"AflNet","t":15,"y":3450,"lo":3410,"hi":3490,"m":1},
{"p":"dcmtk","f":"AflNet","t":20,"y":3465,"lo":3425,"hi":3505,"m":1},
{"p":"dcmtk","f":"AflNet","t":24,"y":3500,"lo":3460,"hi":3540},
{"p":"dcmtk","f":"StateAFL","t":0,"y":0,"lo":0,"hi":0,"m":1},
{"p":"dcmtk","f":"StateAFL","t":0.02,"y":2450,"lo":2350,"hi":2550},
{"p":"dcmtk","f":"StateAFL","t":0.3,"y":2545,"lo":2450,"hi":2620},
{"p":"dcmtk","f":"StateAFL","t":1.0,"y":2625,"lo":2560,"hi":2680},
{"p":"dcmtk","f":"StateAFL","t":1.5,"y":2665,"lo":2600,"hi":2710},
{"p":"dcmtk","f":"StateAFL","t":3,"y":2690,"lo":2640,"hi":2740},
{"p":"dcmtk","f":"StateAFL","t":4.8,"y":2700,"lo":2650,"hi":3240},
{"p":"dcmtk","f":"StateAFL","t":6,"y":2700,"lo":2680,"hi":3250,"m":1},
{"p":"dcmtk","f":"StateAFL","t":8,"y":2727,"lo":2700,"hi":3260},
{"p":"dcmtk","f":"StateAFL","t":12,"y":2750,"lo":2710,"hi":3280,"m":1},
{"p":"dcmtk","f":"StateAFL","t":16,"y":2760,"lo":2720,"hi":3300},
{"p":"dcmtk","f":"StateAFL","t":18,"y":2763,"lo":2720,"hi":3300,"m":1},
{"p":"dcmtk","f":"StateAFL","t":22.8,"y":3014,"lo":2720,"hi":3310},
{"p":"dcmtk","f":"StateAFL","t":24,"y":3014,"lo":2720,"hi":3310},
{"p":"dcmtk","f":"SGFuzz","t":0,"y":0,"lo":0,"hi":0,"m":1},
{"p":"dcmtk","f":"SGFuzz","t":0.02,"y":2500,"lo":2300,"hi":2900},
{"p":"dcmtk","f":"SGFuzz","t":0.1,"y":3150,"lo":2800,"hi":3500},
{"p":"dcmtk","f":"SGFuzz","t":0.3,"y":3300,"lo":2900,"hi":3600},
{"p":"dcmtk","f":"SGFuzz","t":0.6,"y":3420,"lo":3100,"hi":3650},
{"p":"dcmtk","f":"SGFuzz","t":1.5,"y":3540,"lo":3450,"hi":3620},
{"p":"dcmtk","f":"SGFuzz","t":3,"y":3600,"lo":3540,"hi":3660},
{"p":"dcmtk","f":"SGFuzz","t":4.6,"y":3670,"lo":3610,"hi":3730},
{"p":"dcmtk","f":"SGFuzz","t":7,"y":3750,"lo":3690,"hi":3810,"m":1},
{"p":"dcmtk","f":"SGFuzz","t":9.3,"y":3800,"lo":3740,"hi":3860},
{"p":"dcmtk","f":"SGFuzz","t":12.5,"y":3840,"lo":3780,"hi":3900},
{"p":"dcmtk","f":"SGFuzz","t":14,"y":3880,"lo":3810,"hi":3950,"m":1},
{"p":"dcmtk","f":"SGFuzz","t":16.3,"y":3900,"lo":3830,"hi":4000},
{"p":"dcmtk","f":"SGFuzz","t":21,"y":3945,"lo":3880,"hi":4100,"m":1},
{"p":"dcmtk","f":"SGFuzz","t":24,"y":3965,"lo":3900,"hi":4120},
{"p":"live555","f":"FT-Net","t":0,"y":0,"lo":0,"hi":0,"m":1},
{"p":"live555","f":"FT-Net","t":0.02,"y":1200,"lo":1100,"hi":1300},
{"p":"live555","f":"FT-Net","t":0.2,"y":1330,"lo":1200,"hi":1450},
{"p":"live555","f":"FT-Net","t":0.4,"y":1400,"lo":1300,"hi":1530},
{"p":"live555","f":"FT-Net","t":1.1,"y":1430,"lo":1350,"hi":1570},
{"p":"live555","f":"FT-Net","t":2.5,"y":1465,"lo":1400,"hi":1580},
{"p":"live555","f":"FT-Net","t":3.2,"y":1480,"lo":1420,"hi":1590},
{"p":"live555","f":"FT-Net","t":4,"y":1500,"lo":1440,"hi":1600,"m":1},
{"p":"live555","f":"FT-Net","t":5,"y":1530,"lo":1480,"hi":1610},
{"p":"live555","f":"FT-Net","t":6,"y":1548,"lo":1500,"hi":1615},
{"p":"live555","f":"FT-Net","t":8,"y":1563,"lo":1520,"hi":1620,"m":1},
{"p":"live555","f":"FT-Net","t":12,"y":1572,"lo":1530,"hi":1625,"m":1},
{"p":"live555","f":"FT-Net","t":16,"y":1585,"lo":1535,"hi":1635,"m":1},
{"p":"live555","f":"FT-Net","t":20,"y":1590,"lo":1535,"hi":1640,"m":1},
{"p":"live555","f":"FT-Net","t":24,"y":1595,"lo":1535,"hi":1640},
{"p":"live555","f":"AflNet","t":0,"y":0,"lo":0,"hi":0,"m":1},
{"p":"live555","f":"AflNet","t":0.02,"y":1250,"lo":1220,"hi":1280},
{"p":"live555","f":"AflNet","t":0.8,"y":1290,"lo":1275,"hi":1305},
{"p":"live555","f":"AflNet","t":5,"y":1294,"lo":1280,"hi":1310,"m":1},
{"p":"live555","f":"AflNet","t":10,"y":1300,"lo":1285,"hi":1315,"m":1},
{"p":"live555","f":"AflNet","t":12,"y":1300,"lo":1285,"hi":1330},
{"p":"live555","f":"AflNet","t":15,"y":1302,"lo":1285,"hi":1335,"m":1},
{"p":"live555","f":"AflNet","t":19,"y":1320,"lo":1300,"hi":1340},
{"p":"live555","f":"AflNet","t":20,"y":1320,"lo":1300,"hi":1340,"m":1},
{"p":"live555","f":"AflNet","t":24,"y":1325,"lo":1305,"hi":1345},
{"p":"live555","f":"StateAFL","t":0,"y":0,"lo":0,"hi":0,"m":1},
{"p":"live555","f":"StateAFL","t":0.02,"y":1270,"lo":1000,"hi":1290},
{"p":"live555","f":"StateAFL","t":0.2,"y":1291,"lo":1060,"hi":1300},
{"p":"live555","f":"StateAFL","t":6,"y":1291,"lo":1060,"hi":1300,"m":1},
{"p":"live555","f":"StateAFL","t":12,"y":1291,"lo":1060,"hi":1300,"m":1},
{"p":"live555","f":"StateAFL","t":18,"y":1291,"lo":1060,"hi":1300,"m":1},
{"p":"live555","f":"StateAFL","t":24,"y":1291,"lo":1060,"hi":1300},
{"p":"live555","f":"SGFuzz","t":0,"y":0,"lo":0,"hi":0,"m":1},
{"p":"live555","f":"SGFuzz","t":0.02,"y":1150,"lo":1050,"hi":1250},
{"p":"live555","f":"SGFuzz","t":0.2,"y":1240,"lo":1150,"hi":1350},
{"p":"live555","f":"SGFuzz","t":0.5,"y":1310,"lo":1200,"hi":1400},
{"p":"live555","f":"SGFuzz","t":1.1,"y":1400,"lo":1300,"hi":1500},
{"p":"live555","f":"SGFuzz","t":1.8,"y":1420,"lo":1350,"hi":1520},
{"p":"live555","f":"SGFuzz","t":2.5,"y":1426,"lo":1370,"hi":1530},
{"p":"live555","f":"SGFuzz","t":3.2,"y":1447,"lo":1400,"hi":1560},
{"p":"live555","f":"SGFuzz","t":3.8,"y":1492,"lo":1420,"hi":1590},
{"p":"live555","f":"SGFuzz","t":7,"y":1532,"lo":1450,"hi":1620,"m":1},
{"p":"live555","f":"SGFuzz","t":9,"y":1545,"lo":1460,"hi":1625},
{"p":"live555","f":"SGFuzz","t":14,"y":1550,"lo":1460,"hi":1630,"m":1},
{"p":"live555","f":"SGFuzz","t":17.5,"y":1558,"lo":1460,"hi":1635},
{"p":"live555","f":"SGFuzz","t":21,"y":1569,"lo":1460,"hi":1640,"m":1},
{"p":"live555","f":"SGFuzz","t":24,"y":1569,"lo":1460,"hi":1640}
]},
"concat": [
{"title": "dropbearˢ", "width": 342, "height": 227, "data": {"name": "d"}, "transform": [{"filter": "datum.p == 'dropbear'"}],
 "encoding": {
  "x": {"field": "t", "type": "quantitative", "scale": {"domain": [0, 24], "nice": false, "zero": false}, "axis": {"title": null, "values": [0,3,6,9,12,15,18,21], "labelExpr": "datum.value % 6 == 0 ? (datum.value < 10 ? '0' : '') + datum.value + ':00' : ''", "labelFlush": true, "labelOverlap": false}},
  "color": {"field": "f", "type": "nominal", "scale": {"domain": ["FT-Net","AflNet","StateAFL","SGFuzz"], "range": ["#d9626b","#f39c12","#1b9a2a","#7f8c8d"]}, "legend": {"labelExpr": "datum.label == 'FT-Net' ? 'FT-Nᴇᴛ' : datum.label == 'AflNet' ? 'AꜰʟNᴇᴛ' : datum.label == 'StateAFL' ? 'SᴛᴀᴛᴇAFL' : 'SGFᴜᴢᴢ'"}}
 },
 "layer": [
  {"mark": {"type": "area", "interpolate": "step-after", "opacity": 0.2}, "encoding": {"y": {"field": "lo", "type": "quantitative", "scale": {"domain": [0, 2400], "nice": false}, "axis": {"title": null, "values": [0,500,1000,1500,2000], "format": ",d", "minExtent": 50, "maxExtent": 50}}, "y2": {"field": "hi"}}},
  {"mark": {"type": "line", "interpolate": "step-after", "strokeWidth": 2}, "encoding": {"y": {"field": "y", "type": "quantitative", "scale": {"domain": [0, 2400], "nice": false}, "axis": {"title": null, "values": [0,500,1000,1500,2000], "format": ",d", "minExtent": 50, "maxExtent": 50}}}},
  {"transform": [{"filter": "datum.m == 1"}], "mark": {"type": "point", "filled": true, "opacity": 1, "size": 75}, "encoding": {"y": {"field": "y", "type": "quantitative", "scale": {"domain": [0, 2400], "nice": false}, "axis": {"title": null, "values": [0,500,1000,1500,2000], "format": ",d", "minExtent": 50, "maxExtent": 50}}, "shape": {"field": "f", "type": "nominal", "scale": {"domain": ["FT-Net","AflNet","StateAFL","SGFuzz"], "range": ["circle","square","triangle-up","cross"]}}}}
 ]},
{"title": "nginxˢ", "width": 342, "height": 227, "data": {"name": "d"}, "transform": [{"filter": "datum.p == 'nginx'"}],
 "encoding": {
  "x": {"field": "t", "type": "quantitative", "scale": {"domain": [0, 24], "nice": false, "zero": false}, "axis": {"title": null, "values": [0,3,6,9,12,15,18,21], "labelExpr": "datum.value % 6 == 0 ? (datum.value < 10 ? '0' : '') + datum.value + ':00' : ''", "labelFlush": true, "labelOverlap": false}},
  "color": {"field": "f", "type": "nominal", "scale": {"domain": ["FT-Net","AflNet","StateAFL","SGFuzz"], "range": ["#d9626b","#f39c12","#1b9a2a","#7f8c8d"]}}
 },
 "layer": [
  {"mark": {"type": "area", "interpolate": "step-after", "opacity": 0.2}, "encoding": {"y": {"field": "lo", "type": "quantitative", "scale": {"domain": [0, 5480], "nice": false}, "axis": {"title": null, "values": [0,1000,2000,3000,4000,5000], "format": ",d", "minExtent": 50, "maxExtent": 50}}, "y2": {"field": "hi"}}},
  {"mark": {"type": "line", "interpolate": "step-after", "strokeWidth": 2}, "encoding": {"y": {"field": "y", "type": "quantitative", "scale": {"domain": [0, 5480], "nice": false}, "axis": {"title": null, "values": [0,1000,2000,3000,4000,5000], "format": ",d", "minExtent": 50, "maxExtent": 50}}}},
  {"transform": [{"filter": "datum.m == 1"}], "mark": {"type": "point", "filled": true, "opacity": 1, "size": 75}, "encoding": {"y": {"field": "y", "type": "quantitative", "scale": {"domain": [0, 5480], "nice": false}, "axis": {"title": null, "values": [0,1000,2000,3000,4000,5000], "format": ",d", "minExtent": 50, "maxExtent": 50}}, "shape": {"field": "f", "type": "nominal", "scale": {"domain": ["FT-Net","AflNet","StateAFL","SGFuzz"], "range": ["circle","square","triangle-up","cross"]}}}}
 ]},
{"title": {"text": "sambaˢ", "offset": -7}, "width": 342, "height": 227, "data": {"name": "d"}, "transform": [{"filter": "datum.p == 'samba'"}],
 "encoding": {
  "x": {"field": "t", "type": "quantitative", "scale": {"domain": [0, 24], "nice": false, "zero": false}, "axis": {"title": null, "values": [0,3,6,9,12,15,18,21], "labelExpr": "datum.value % 6 == 0 ? (datum.value < 10 ? '0' : '') + datum.value + ':00' : ''", "labelFlush": true, "labelOverlap": false}},
  "color": {"field": "f", "type": "nominal", "scale": {"domain": ["FT-Net","AflNet","StateAFL","SGFuzz"], "range": ["#d9626b","#f39c12","#1b9a2a","#7f8c8d"]}}
 },
 "layer": [
  {"mark": {"type": "area", "interpolate": "step-after", "opacity": 0.2}, "encoding": {"y": {"field": "lo", "type": "quantitative", "scale": {"domain": [0, 10000], "nice": false}, "axis": {"title": null, "values": [0,2000,4000,6000,8000,10000], "format": ",d", "minExtent": 55, "maxExtent": 55}}, "y2": {"field": "hi"}}},
  {"mark": {"type": "line", "interpolate": "step-after", "strokeWidth": 2}, "encoding": {"y": {"field": "y", "type": "quantitative", "scale": {"domain": [0, 10000], "nice": false}, "axis": {"title": null, "values": [0,2000,4000,6000,8000,10000], "format": ",d", "minExtent": 55, "maxExtent": 55}}}},
  {"transform": [{"filter": "datum.m == 1"}], "mark": {"type": "point", "filled": true, "opacity": 1, "size": 75}, "encoding": {"y": {"field": "y", "type": "quantitative", "scale": {"domain": [0, 10000], "nice": false}, "axis": {"title": null, "values": [0,2000,4000,6000,8000,10000], "format": ",d", "minExtent": 55, "maxExtent": 55}}, "shape": {"field": "f", "type": "nominal", "scale": {"domain": ["FT-Net","AflNet","StateAFL","SGFuzz"], "range": ["circle","square","triangle-up","cross"]}}}}
 ]},
{"title": {"text": "gnutlsˢ", "offset": -7}, "width": 342, "height": 228, "data": {"name": "d"}, "transform": [{"filter": "datum.p == 'gnutls'"}],
 "encoding": {
  "x": {"field": "t", "type": "quantitative", "scale": {"domain": [0, 24], "nice": false, "zero": false}, "axis": {"title": null, "values": [0,3,6,9,12,15,18,21], "labelExpr": "datum.value % 6 == 0 ? (datum.value < 10 ? '0' : '') + datum.value + ':00' : ''", "labelFlush": true, "labelOverlap": false}},
  "color": {"field": "f", "type": "nominal", "scale": {"domain": ["FT-Net","AflNet","StateAFL","SGFuzz"], "range": ["#d9626b","#f39c12","#1b9a2a","#7f8c8d"]}}
 },
 "layer": [
  {"mark": {"type": "area", "interpolate": "step-after", "opacity": 0.2}, "encoding": {"y": {"field": "lo", "type": "quantitative", "scale": {"domain": [0, 6000], "nice": false}, "axis": {"title": "#Covered Branches", "titlePadding": 6, "values": [0,1000,2000,3000,4000,5000,6000], "format": ",d", "minExtent": 50, "maxExtent": 50}}, "y2": {"field": "hi"}}},
  {"mark": {"type": "line", "interpolate": "step-after", "strokeWidth": 2}, "encoding": {"y": {"field": "y", "type": "quantitative", "scale": {"domain": [0, 6000], "nice": false}, "axis": {"title": "#Covered Branches", "titlePadding": 6, "values": [0,1000,2000,3000,4000,5000,6000], "format": ",d", "minExtent": 50, "maxExtent": 50}}}},
  {"transform": [{"filter": "datum.m == 1"}], "mark": {"type": "point", "filled": true, "opacity": 1, "size": 75}, "encoding": {"y": {"field": "y", "type": "quantitative", "scale": {"domain": [0, 6000], "nice": false}, "axis": {"title": "#Covered Branches", "titlePadding": 6, "values": [0,1000,2000,3000,4000,5000,6000], "format": ",d", "minExtent": 50, "maxExtent": 50}}, "shape": {"field": "f", "type": "nominal", "scale": {"domain": ["FT-Net","AflNet","StateAFL","SGFuzz"], "range": ["circle","square","triangle-up","cross"]}}}}
 ]},
{"title": {"text": "libresslˢ", "offset": -7}, "width": 342, "height": 228, "data": {"name": "d"}, "transform": [{"filter": "datum.p == 'libressl'"}],
 "encoding": {
  "x": {"field": "t", "type": "quantitative", "scale": {"domain": [0, 24], "nice": false, "zero": false}, "axis": {"title": null, "values": [0,3,6,9,12,15,18,21], "labelExpr": "datum.value % 6 == 0 ? (datum.value < 10 ? '0' : '') + datum.value + ':00' : ''", "labelFlush": true, "labelOverlap": false}},
  "color": {"field": "f", "type": "nominal", "scale": {"domain": ["FT-Net","AflNet","StateAFL","SGFuzz"], "range": ["#d9626b","#f39c12","#1b9a2a","#7f8c8d"]}}
 },
 "layer": [
  {"mark": {"type": "area", "interpolate": "step-after", "opacity": 0.2}, "encoding": {"y": {"field": "lo", "type": "quantitative", "scale": {"domain": [0, 8000], "nice": false}, "axis": {"title": null, "values": [0,2000,4000,6000,8000], "format": ",d", "minExtent": 50, "maxExtent": 50}}, "y2": {"field": "hi"}}},
  {"mark": {"type": "line", "interpolate": "step-after", "strokeWidth": 2}, "encoding": {"y": {"field": "y", "type": "quantitative", "scale": {"domain": [0, 8000], "nice": false}, "axis": {"title": null, "values": [0,2000,4000,6000,8000], "format": ",d", "minExtent": 50, "maxExtent": 50}}}},
  {"transform": [{"filter": "datum.m == 1"}], "mark": {"type": "point", "filled": true, "opacity": 1, "size": 75}, "encoding": {"y": {"field": "y", "type": "quantitative", "scale": {"domain": [0, 8000], "nice": false}, "axis": {"title": null, "values": [0,2000,4000,6000,8000], "format": ",d", "minExtent": 50, "maxExtent": 50}}, "shape": {"field": "f", "type": "nominal", "scale": {"domain": ["FT-Net","AflNet","StateAFL","SGFuzz"], "range": ["circle","square","triangle-up","cross"]}}}}
 ]},
{"title": "opensslˢ", "width": 342, "height": 228, "data": {"name": "d"}, "transform": [{"filter": "datum.p == 'openssl'"}],
 "encoding": {
  "x": {"field": "t", "type": "quantitative", "scale": {"domain": [0, 24], "nice": false, "zero": false}, "axis": {"title": null, "values": [0,3,6,9,12,15,18,21], "labelExpr": "datum.value % 6 == 0 ? (datum.value < 10 ? '0' : '') + datum.value + ':00' : ''", "labelFlush": true, "labelOverlap": false}},
  "color": {"field": "f", "type": "nominal", "scale": {"domain": ["FT-Net","AflNet","StateAFL","SGFuzz"], "range": ["#d9626b","#f39c12","#1b9a2a","#7f8c8d"]}}
 },
 "layer": [
  {"mark": {"type": "area", "interpolate": "step-after", "opacity": 0.2}, "encoding": {"y": {"field": "lo", "type": "quantitative", "scale": {"domain": [0, 16050], "nice": false}, "axis": {"title": null, "values": [0,5000,10000,15000], "format": ",d", "minExtent": 55, "maxExtent": 55}}, "y2": {"field": "hi"}}},
  {"mark": {"type": "line", "interpolate": "step-after", "strokeWidth": 2}, "encoding": {"y": {"field": "y", "type": "quantitative", "scale": {"domain": [0, 16050], "nice": false}, "axis": {"title": null, "values": [0,5000,10000,15000], "format": ",d", "minExtent": 55, "maxExtent": 55}}}},
  {"transform": [{"filter": "datum.m == 1"}], "mark": {"type": "point", "filled": true, "opacity": 1, "size": 75}, "encoding": {"y": {"field": "y", "type": "quantitative", "scale": {"domain": [0, 16050], "nice": false}, "axis": {"title": null, "values": [0,5000,10000,15000], "format": ",d", "minExtent": 55, "maxExtent": 55}}, "shape": {"field": "f", "type": "nominal", "scale": {"domain": ["FT-Net","AflNet","StateAFL","SGFuzz"], "range": ["circle","square","triangle-up","cross"]}}}}
 ]},
{"title": "mosquittoˢ", "width": 342, "height": 227, "data": {"name": "d"}, "transform": [{"filter": "datum.p == 'mosquitto'"}],
 "encoding": {
  "x": {"field": "t", "type": "quantitative", "scale": {"domain": [0, 24], "nice": false, "zero": false}, "axis": {"title": null, "values": [0,3,6,9,12,15,18,21], "labelExpr": "datum.value % 6 == 0 ? (datum.value < 10 ? '0' : '') + datum.value + ':00' : ''", "labelFlush": true, "labelOverlap": false}},
  "color": {"field": "f", "type": "nominal", "scale": {"domain": ["FT-Net","AflNet","StateAFL","SGFuzz"], "range": ["#d9626b","#f39c12","#1b9a2a","#7f8c8d"]}}
 },
 "layer": [
  {"mark": {"type": "area", "interpolate": "step-after", "opacity": 0.2}, "encoding": {"y": {"field": "lo", "type": "quantitative", "scale": {"domain": [0, 2190], "nice": false}, "axis": {"title": null, "values": [0,500,1000,1500,2000], "format": ",d", "minExtent": 50, "maxExtent": 50}}, "y2": {"field": "hi"}}},
  {"mark": {"type": "line", "interpolate": "step-after", "strokeWidth": 2}, "encoding": {"y": {"field": "y", "type": "quantitative", "scale": {"domain": [0, 2190], "nice": false}, "axis": {"title": null, "values": [0,500,1000,1500,2000], "format": ",d", "minExtent": 50, "maxExtent": 50}}}},
  {"transform": [{"filter": "datum.m == 1"}], "mark": {"type": "point", "filled": true, "opacity": 1, "size": 75}, "encoding": {"y": {"field": "y", "type": "quantitative", "scale": {"domain": [0, 2190], "nice": false}, "axis": {"title": null, "values": [0,500,1000,1500,2000], "format": ",d", "minExtent": 50, "maxExtent": 50}}, "shape": {"field": "f", "type": "nominal", "scale": {"domain": ["FT-Net","AflNet","StateAFL","SGFuzz"], "range": ["circle","square","triangle-up","cross"]}}}}
 ]},
{"title": "dcmtkˢ", "width": 342, "height": 227, "data": {"name": "d"}, "transform": [{"filter": "datum.p == 'dcmtk'"}],
 "encoding": {
  "x": {"field": "t", "type": "quantitative", "scale": {"domain": [0, 24], "nice": false, "zero": false}, "axis": {"title": "Time [hh:mm]", "values": [0,3,6,9,12,15,18,21], "labelExpr": "datum.value % 6 == 0 ? (datum.value < 10 ? '0' : '') + datum.value + ':00' : ''", "labelFlush": true, "labelOverlap": false}},
  "color": {"field": "f", "type": "nominal", "scale": {"domain": ["FT-Net","AflNet","StateAFL","SGFuzz"], "range": ["#d9626b","#f39c12","#1b9a2a","#7f8c8d"]}}
 },
 "layer": [
  {"mark": {"type": "area", "interpolate": "step-after", "opacity": 0.2}, "encoding": {"y": {"field": "lo", "type": "quantitative", "scale": {"domain": [0, 4500], "nice": false}, "axis": {"title": null, "values": [0,1000,2000,3000,4000], "format": ",d", "minExtent": 50, "maxExtent": 50}}, "y2": {"field": "hi"}}},
  {"mark": {"type": "line", "interpolate": "step-after", "strokeWidth": 2}, "encoding": {"y": {"field": "y", "type": "quantitative", "scale": {"domain": [0, 4500], "nice": false}, "axis": {"title": null, "values": [0,1000,2000,3000,4000], "format": ",d", "minExtent": 50, "maxExtent": 50}}}},
  {"transform": [{"filter": "datum.m == 1"}], "mark": {"type": "point", "filled": true, "opacity": 1, "size": 75}, "encoding": {"y": {"field": "y", "type": "quantitative", "scale": {"domain": [0, 4500], "nice": false}, "axis": {"title": null, "values": [0,1000,2000,3000,4000], "format": ",d", "minExtent": 50, "maxExtent": 50}}, "shape": {"field": "f", "type": "nominal", "scale": {"domain": ["FT-Net","AflNet","StateAFL","SGFuzz"], "range": ["circle","square","triangle-up","cross"]}}}}
 ]},
{"title": "live555ˢ", "width": 342, "height": 227, "data": {"name": "d"}, "transform": [{"filter": "datum.p == 'live555'"}],
 "encoding": {
  "x": {"field": "t", "type": "quantitative", "scale": {"domain": [0, 24], "nice": false, "zero": false}, "axis": {"title": null, "values": [0,3,6,9,12,15,18,21], "labelExpr": "datum.value % 6 == 0 ? (datum.value < 10 ? '0' : '') + datum.value + ':00' : ''", "labelFlush": true, "labelOverlap": false}},
  "color": {"field": "f", "type": "nominal", "scale": {"domain": ["FT-Net","AflNet","StateAFL","SGFuzz"], "range": ["#d9626b","#f39c12","#1b9a2a","#7f8c8d"]}}
 },
 "layer": [
  {"mark": {"type": "area", "interpolate": "step-after", "opacity": 0.2}, "encoding": {"y": {"field": "lo", "type": "quantitative", "scale": {"domain": [0, 1800], "nice": false}, "axis": {"title": null, "values": [0,500,1000,1500], "format": ",d", "minExtent": 55, "maxExtent": 55}}, "y2": {"field": "hi"}}},
  {"mark": {"type": "line", "interpolate": "step-after", "strokeWidth": 2}, "encoding": {"y": {"field": "y", "type": "quantitative", "scale": {"domain": [0, 1800], "nice": false}, "axis": {"title": null, "values": [0,500,1000,1500], "format": ",d", "minExtent": 55, "maxExtent": 55}}}},
  {"transform": [{"filter": "datum.m == 1"}], "mark": {"type": "point", "filled": true, "opacity": 1, "size": 75}, "encoding": {"y": {"field": "y", "type": "quantitative", "scale": {"domain": [0, 1800], "nice": false}, "axis": {"title": null, "values": [0,500,1000,1500], "format": ",d", "minExtent": 55, "maxExtent": 55}}, "shape": {"field": "f", "type": "nominal", "scale": {"domain": ["FT-Net","AflNet","StateAFL","SGFuzz"], "range": ["circle","square","triangle-up","cross"]}}}}
 ]}
]
}
